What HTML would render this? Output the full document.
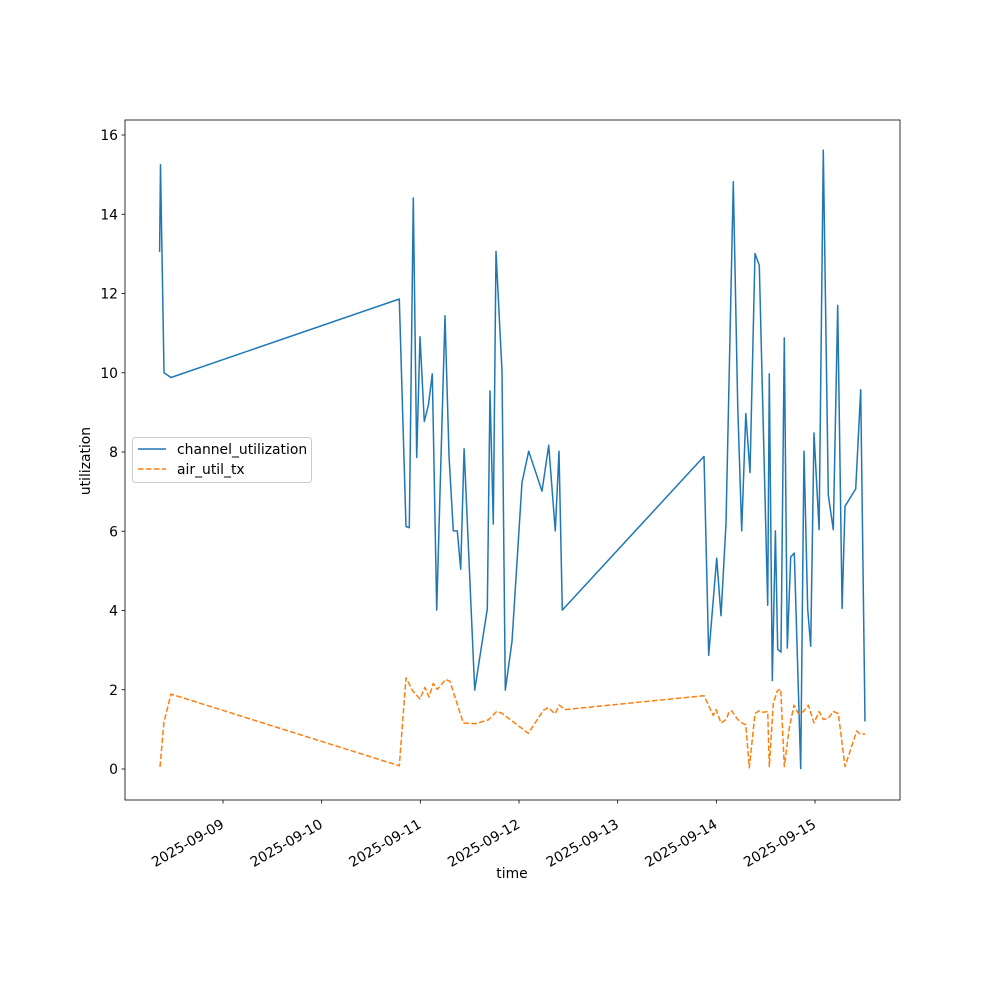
<!DOCTYPE html>
<html><head><meta charset="utf-8"><style>
body{margin:0;background:#fff}
svg{font-family:"DejaVu Sans","Liberation Sans",sans-serif}
</style></head><body>
<svg id="chart" width="1000" height="1000" viewBox="0 0 1000 1000" xmlns="http://www.w3.org/2000/svg">
<rect width="1000" height="1000" fill="#fff"/>
<g id="marks"></g>
<g id="axes"></g>
</svg>
<script>
// days since 2025-09-09 00:00
const chanTimes=[-0.643,-0.633,-0.598,-0.527,1.787,1.855,1.888,1.929,1.963,1.997,2.040,2.081,2.121,2.166,2.250,2.290,2.334,2.375,2.409,2.443,2.551,2.679,2.706,2.739,2.767,2.828,2.861,2.929,3.030,3.098,3.233,3.301,3.368,3.405,3.439,4.875,4.922,5.004,5.047,5.098,5.172,5.216,5.257,5.298,5.341,5.392,5.435,5.520,5.537,5.567,5.598,5.622,5.655,5.689,5.719,5.754,5.790,5.855,5.888,5.926,5.956,5.990,6.041,6.084,6.135,6.185,6.230,6.274,6.304,6.412,6.463,6.507];
const chanValues=[13.05,15.25,10.0,9.88,11.86,6.12,6.09,14.41,7.86,10.91,8.77,9.17,9.97,4.01,11.44,7.91,6.01,6.01,5.04,8.08,1.99,4.04,9.54,6.18,13.06,10.04,1.99,3.22,7.23,8.02,7.01,8.17,6.01,8.02,4.01,7.89,2.87,5.32,3.87,6.19,14.82,9.18,6.01,8.97,7.48,13.01,12.71,4.13,9.97,2.23,6.01,3.02,2.95,10.88,3.05,5.35,5.45,0.01,8.02,4.03,3.10,8.48,6.04,15.62,6.91,6.04,11.70,4.05,6.63,7.07,9.57,1.20];
const airTimes=[-0.638,-0.598,-0.527,1.787,1.855,1.923,1.997,2.047,2.088,2.131,2.172,2.257,2.301,2.435,2.554,2.689,2.774,2.825,3.094,3.246,3.297,3.365,3.408,3.466,4.875,4.969,4.996,5.047,5.098,5.131,5.156,5.216,5.273,5.298,5.334,5.392,5.435,5.476,5.520,5.537,5.577,5.618,5.652,5.689,5.739,5.787,5.831,5.882,5.933,5.990,6.041,6.084,6.135,6.185,6.236,6.304,6.422,6.456,6.507];
const airValues=[0.05,1.19,1.89,0.08,2.30,1.97,1.77,2.06,1.82,2.16,2.01,2.26,2.21,1.16,1.14,1.24,1.45,1.41,0.90,1.48,1.55,1.39,1.61,1.50,1.85,1.35,1.50,1.16,1.25,1.45,1.47,1.25,1.14,1.12,0.03,1.40,1.47,1.43,1.45,0.06,1.66,1.97,2.02,0.06,1.04,1.61,1.40,1.45,1.61,1.16,1.45,1.25,1.28,1.45,1.40,0.06,0.96,0.88,0.88];
const yTicks=[0,2,4,6,8,10,12,14,16];
const xTickDays=[0,1,2,3,4,5,6];
const xTickLabels=["2025-09-09","2025-09-10","2025-09-11","2025-09-12","2025-09-13","2025-09-14","2025-09-15"];

const NS="http://www.w3.org/2000/svg";
const L=125,R=900,T=120,B=800;
const xS=d=>223+d*98.67;
const yS=v=>769-v*39.625;
function mk(tag,attrs,parent){const e=document.createElementNS(NS,tag);for(const k in attrs)e.setAttribute(k,attrs[k]);parent.appendChild(e);return e;}
const marks=document.getElementById('marks'),axes=document.getElementById('axes');

const p1=mk('polyline',{points:chanTimes.map((t,i)=>xS(t).toFixed(1)+','+yS(chanValues[i]).toFixed(1)).join(' '),fill:'none',stroke:'#1f77b4','stroke-width':1.5,'stroke-linejoin':'round'},marks);


const p2=mk('polyline',{points:airTimes.map((t,i)=>xS(t).toFixed(1)+','+yS(airValues[i]).toFixed(1)).join(' '),fill:'none',stroke:'#ff7f0e','stroke-width':1.5,'stroke-dasharray':'5.55 2.4','stroke-linejoin':'round'},marks);



const frame=mk('rect',{x:L,y:T,width:R-L,height:B-T,fill:'none',stroke:'#000','stroke-width':0.8},axes);



yTicks.forEach(v=>{
  const y=yS(v);
  const tk=mk('line',{x1:L-3.5,x2:L,y1:y,y2:y,stroke:'#000','stroke-width':0.8},axes);
  
  
  const tx=mk('text',{x:L-7,y:y+5,'text-anchor':'end','font-size':13.9},axes);
  tx.textContent=v;
  
  
});
xTickDays.forEach((d,i)=>{
  const x=xS(d);
  const tk=mk('line',{x1:x,x2:x,y1:B,y2:B+3.5,stroke:'#000','stroke-width':0.8},axes);
  
  
  const ax=x+2, ay=B+27;
  const tx=mk('text',{x:ax,y:ay,'text-anchor':'end','font-size':13.9,transform:`rotate(-30 ${ax} ${ay})`},axes);
  tx.textContent=xTickLabels[i];
  
  
});
const xt=mk('text',{x:512,y:878,'text-anchor':'middle','font-size':13.9},axes);
xt.textContent='time';


const yt=mk('text',{x:90,y:461,'text-anchor':'middle','font-size':13.9,transform:'rotate(-90 90 461)'},axes);
yt.textContent='utilization';



const lg=mk('g',{},axes);


mk('rect',{x:132.5,y:437.5,width:179,height:45,rx:3,fill:'#fff','fill-opacity':0.8,stroke:'#ccc','stroke-width':1},lg);
const e1=mk('g',{},lg);


mk('line',{x1:138,x2:166,y1:449,y2:449,stroke:'#1f77b4','stroke-width':1.5},e1);
const t1=mk('text',{x:177,y:454,'font-size':13.9},e1);t1.textContent='channel_utilization';
const e2=mk('g',{},lg);


mk('line',{x1:138,x2:166,y1:469,y2:469,stroke:'#ff7f0e','stroke-width':1.5,'stroke-dasharray':'5.55 2.4'},e2);
const t2=mk('text',{x:177,y:474,'font-size':13.9},e2);t2.textContent='air_util_tx';
</script>
</body></html>
